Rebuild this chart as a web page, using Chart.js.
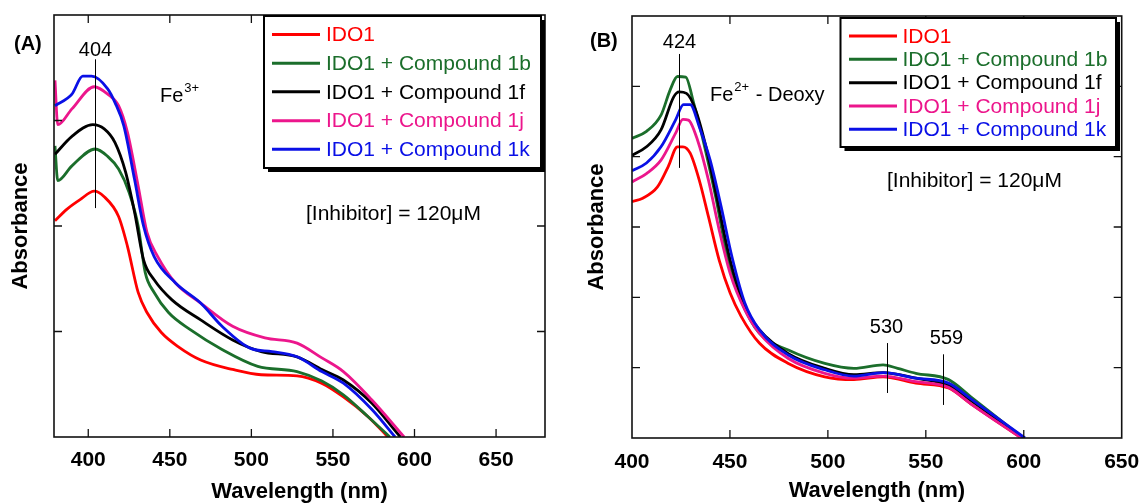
<!DOCTYPE html>
<html>
<head>
<meta charset="utf-8">
<script src="https://cdn.jsdelivr.net/npm/chart.js@4.4.1/dist/chart.umd.min.js"></script>
<style>
html,body{margin:0;padding:0;background:#fff;width:1141px;height:503px;overflow:hidden}
#wa{position:absolute;left:0;top:0;width:570px;height:503px}
#wb{position:absolute;left:570px;top:0;width:571px;height:503px}
canvas{display:block}
</style>
</head>
<body>
<div id="wa"><canvas id="ca" width="570" height="503"></canvas></div>
<div id="wb"><canvas id="cb" width="571" height="503"></canvas></div>
<script>
// ---------------- DATA ----------------
const seriesNames = ['IDO1', 'IDO1 + Compound 1b', 'IDO1 + Compound 1f', 'IDO1 + Compound 1j', 'IDO1 + Compound 1k'];

// x-axis tick labels (nm)
const xTicksA = [400, 450, 500, 550, 600, 650];
const xTicksB = [400, 450, 500, 550, 600, 650];

// Panel (A): Fe3+  — wavelength (nm) / absorbance (arb.)
const aIdo1Wl  = [379.6, 387, 395, 403.7, 409.6, 418.6, 424, 430.6, 436, 444.8, 455.7, 468.9, 488.5, 506, 528, 543, 556.4, 571.7, 583.7];
const aIdo1Abs = [0.205, 0.216, 0.225, 0.233, 0.228, 0.209, 0.181, 0.137, 0.118, 0.099, 0.085, 0.073, 0.064, 0.059, 0.058, 0.051, 0.038, 0.019, 0.000];
const a1bWl    = [379.6, 381.3, 390, 404.3, 411.9, 418.6, 425, 430.6, 434.9, 440.4, 449.2, 462.3, 482, 503.9, 528, 543.2, 556.4, 571.7, 584.9];
const a1bAbs   = [0.276, 0.243, 0.257, 0.273, 0.266, 0.254, 0.232, 0.200, 0.156, 0.137, 0.118, 0.102, 0.083, 0.067, 0.062, 0.053, 0.040, 0.019, 0.000];
const a1fWl    = [379.6, 390, 402.8, 409.8, 416.4, 422.9, 428.4, 433.9, 440.4, 451.3, 468.9, 488.5, 506, 528, 543.2, 556.4, 573.9, 589.2, 591.4];
const a1fAbs   = [0.268, 0.285, 0.296, 0.292, 0.279, 0.251, 0.213, 0.168, 0.149, 0.130, 0.111, 0.092, 0.081, 0.076, 0.064, 0.054, 0.032, 0.004, 0.000];
const a1jWl    = [379.6, 381.3, 390, 403.7, 411.9, 418.6, 424, 430.6, 436, 442.6, 453.5, 468.9, 488.5, 508.3, 528, 543.2, 556.4, 573.9, 593.6];
const a1jAbs   = [0.338, 0.296, 0.311, 0.332, 0.325, 0.314, 0.289, 0.238, 0.194, 0.171, 0.146, 0.127, 0.105, 0.094, 0.089, 0.075, 0.062, 0.035, 0.000];
const a1kWl    = [379.6, 390, 396.6, 402, 411.9, 416.4, 421.8, 428.4, 433.9, 440.4, 453.5, 468.9, 482, 499.5, 512.6, 528, 543.2, 556.4, 573.9, 588.1];
const a1kAbs   = [0.314, 0.325, 0.342, 0.342, 0.330, 0.317, 0.295, 0.244, 0.200, 0.171, 0.146, 0.127, 0.105, 0.084, 0.081, 0.076, 0.062, 0.051, 0.026, 0.000];

// Panel (B): Fe2+ - Deoxy
const bIdo1Wl  = [400, 405.5, 413, 418.5, 423.2, 426, 429.7, 434.3, 439, 444.5, 450.1, 455.7, 465, 479.8, 498.4, 513.3, 528.2, 544.9, 561.6, 572.8, 598.8];
const bIdo1Abs = [0.336, 0.341, 0.357, 0.386, 0.414, 0.414, 0.405, 0.367, 0.315, 0.253, 0.206, 0.173, 0.135, 0.106, 0.087, 0.083, 0.087, 0.078, 0.071, 0.049, 0.000];
const b1bWl    = [400, 407.4, 414.8, 419.5, 423.2, 427.4, 431.5, 437.1, 442.7, 448.3, 455.7, 465, 479.8, 498.4, 513.3, 528.2, 535.6, 544.9, 561.6, 572.8, 599.6];
const b1bAbs   = [0.426, 0.436, 0.459, 0.495, 0.514, 0.513, 0.476, 0.414, 0.343, 0.263, 0.196, 0.149, 0.125, 0.106, 0.099, 0.104, 0.099, 0.092, 0.083, 0.059, 0.000];
const b1fWl    = [400, 407.4, 414.8, 421.3, 424.1, 427.8, 432.5, 438.1, 443.6, 450.1, 457.6, 465, 479.8, 498.4, 513.3, 528.2, 544.9, 561.6, 572.8, 599.6];
const b1fAbs   = [0.402, 0.414, 0.438, 0.485, 0.492, 0.490, 0.466, 0.410, 0.338, 0.253, 0.187, 0.154, 0.120, 0.099, 0.090, 0.093, 0.085, 0.075, 0.054, 0.000];
const b1jWl    = [400, 407.4, 414.8, 422.2, 426, 428.8, 433.4, 439, 444.5, 450.1, 457.6, 465, 479.8, 498.4, 513.3, 528.2, 544.9, 561.6, 572.8, 598.8];
const b1jAbs   = [0.364, 0.376, 0.395, 0.433, 0.453, 0.452, 0.424, 0.367, 0.296, 0.234, 0.182, 0.149, 0.113, 0.092, 0.085, 0.088, 0.080, 0.072, 0.049, 0.000];
const b1kWl    = [400, 407.4, 414.8, 422.2, 426.3, 429.7, 434.3, 439.9, 445.5, 451, 457.6, 465, 479.8, 498.4, 513.3, 528.2, 544.9, 561.6, 572.8, 600.6];
const b1kAbs   = [0.380, 0.391, 0.414, 0.452, 0.474, 0.474, 0.443, 0.395, 0.329, 0.258, 0.192, 0.154, 0.118, 0.097, 0.088, 0.093, 0.085, 0.078, 0.056, 0.000];

// Peak marker lines: wavelength, lower and upper absorbance
const peaksA = [404];
const peaksALo = [0.217];
const peaksAHi = [0.358];
const peaksB = [424, 530, 559];
const peaksBLo = [0.384, 0.064, 0.047];
const peaksBHi = [0.546, 0.135, 0.119];

// ---------------- STYLE ----------------
const FONT = 'Arial, "Liberation Sans", Helvetica, sans-serif';
const seriesColors = ['#ff0000', '#1b6e2b', '#000000', '#ec168c', '#0a10e6'];
Chart.defaults.font.family = FONT;
Chart.defaults.color = '#000';

function toPts(wl, ab) { return wl.map((w, i) => ({ x: w, y: ab[i] })); }
function makeDatasets(pairs) {
  return pairs.map((p, i) => ({
    label: seriesNames[i],
    data: toPts(p[0], p[1]),
    borderColor: seriesColors[i],
    backgroundColor: seriesColors[i],
    borderWidth: 2.8,
    pointRadius: 0,
    fill: false,
    cubicInterpolationMode: 'monotone',
    order: 5 - i
  }));
}

function decorPlugin(L) {
  return {
    id: 'decor',
    afterDatasetsDraw(chart) {
      const ctx = chart.ctx, ca = chart.chartArea;
      const xs = chart.scales.x, ys = chart.scales.y;
      ctx.save();
      // peak lines
      ctx.strokeStyle = '#000'; ctx.lineWidth = 1;
      L.peaks.forEach((w, i) => {
        const px = Math.round(xs.getPixelForValue(w)) + 0.5;
        ctx.beginPath();
        ctx.moveTo(px, ys.getPixelForValue(L.peaksLo[i]));
        ctx.lineTo(px, ys.getPixelForValue(L.peaksHi[i]));
        ctx.stroke();
        ctx.font = '20px ' + FONT; ctx.fillStyle = '#000';
        ctx.textAlign = 'center'; ctx.textBaseline = 'alphabetic';
        ctx.fillText(String(w), px + (L.peakDx ? L.peakDx[i] : 0), L.peakLabelY[i]);
      });
      // frame
      ctx.strokeStyle = '#111'; ctx.lineWidth = 1.6;
      ctx.strokeRect(ca.left, ca.top, ca.right - ca.left, ca.bottom - ca.top);
      // inward ticks
      ctx.lineWidth = 1.3;
      xs.ticks.forEach(t => {
        const px = xs.getPixelForValue(t.value);
        if (px <= ca.left + 2 || px >= ca.right - 2) return;
        ctx.beginPath();
        ctx.moveTo(px, ca.bottom); ctx.lineTo(px, ca.bottom - 8);
        ctx.moveTo(px, ca.top); ctx.lineTo(px, ca.top + 8);
        ctx.stroke();
      });
      ys.ticks.forEach(t => {
        const py = ys.getPixelForValue(t.value);
        if (py <= ca.top + 2 || py >= ca.bottom - 2) return;
        ctx.beginPath();
        ctx.moveTo(ca.left, py); ctx.lineTo(ca.left + 8, py);
        ctx.moveTo(ca.right, py); ctx.lineTo(ca.right - 8, py);
        ctx.stroke();
      });
      // panel letter
      ctx.fillStyle = '#000';
      ctx.font = 'bold 20px ' + FONT; ctx.textAlign = 'left'; ctx.textBaseline = 'alphabetic';
      ctx.fillText(L.letter, L.letterX, L.letterY);
      // Fe label
      ctx.font = '20px ' + FONT;
      ctx.fillText('Fe', L.feX, L.feY);
      const feW = ctx.measureText('Fe').width;
      ctx.font = '13px ' + FONT;
      ctx.fillText(L.feSup, L.feX + feW + 1, L.feY - 10);
      const supW = ctx.measureText(L.feSup).width;
      if (L.feRest) {
        ctx.font = '20px ' + FONT;
        ctx.fillText(L.feRest, L.feX + feW + supW + 2, L.feY);
      }
      // inhibitor note
      ctx.font = '21px ' + FONT;
      ctx.fillText('[Inhibitor] = 120\u03BCM', L.inhX, L.inhY);
      // legend box
      const g = L.legend;
      ctx.fillStyle = '#fff';
      ctx.fillRect(g.x0, g.y0, g.x1 - g.x0, g.y1 - g.y0);
      ctx.fillStyle = '#000';
      ctx.fillRect(g.x1, g.y0 + 4, 4, g.y1 - g.y0);
      ctx.fillRect(g.x0 + 4, g.y1, g.x1 - g.x0, 4);
      ctx.strokeStyle = '#000'; ctx.lineWidth = 2;
      ctx.strokeRect(g.x0, g.y0, g.x1 - g.x0, g.y1 - g.y0);
      chart.data.datasets.forEach((ds, i) => {
        const y = g.rows[i];
        ctx.strokeStyle = ds.borderColor; ctx.lineWidth = 3;
        ctx.beginPath(); ctx.moveTo(g.lx0, y); ctx.lineTo(g.lx1, y); ctx.stroke();
        ctx.fillStyle = ds.borderColor;
        ctx.font = g.font + 'px ' + FONT; ctx.textBaseline = 'middle'; ctx.textAlign = 'left';
        ctx.fillText(ds.label, g.tx, y + 1);
      });
      ctx.restore();
    }
  };
}

function makeChart(canvasId, datasets, xmin, xmax, xticks, ymax, L) {
  return new Chart(document.getElementById(canvasId), {
    type: 'line',
    data: { datasets },
    options: {
      responsive: false,
      animation: false,
      events: [],
      layout: { padding: { left: 0, right: L.padRight, top: L.padTop, bottom: 0 } },
      plugins: { legend: { display: false }, tooltip: { enabled: false }, title: { display: false } },
      scales: {
        x: {
          type: 'linear', min: xmin, max: xmax,
          afterBuildTicks: s => { s.ticks = xticks.map(v => ({ value: v })); },
          afterFit: s => { s.height = L.xH; s.paddingLeft = 0; s.paddingRight = 0; },
          grid: { display: false, drawTicks: false },
          border: { display: false },
          ticks: { padding: L.tickPad, autoSkip: false, maxRotation: 0, font: { size: 21, weight: 'bold' }, color: '#000' },
          title: { display: true, text: 'Wavelength (nm)', font: { size: 22, weight: 'bold', lineHeight: 1 }, padding: { top: 0, bottom: L.xTitlePad }, color: '#000' }
        },
        y: {
          type: 'linear', min: 0, max: ymax,
          ticks: { display: false, stepSize: 0.1 },
          afterFit: s => { s.width = L.yW; s.paddingTop = 0; s.paddingBottom = 0; },
          grid: { display: false, drawTicks: false },
          border: { display: false },
          title: { display: true, text: 'Absorbance', font: { size: 22, weight: 'bold', lineHeight: 1 }, padding: { top: L.yTitlePad, bottom: 0 }, color: '#000' }
        }
      }
    },
    plugins: [decorPlugin(L)]
  });
}

const layoutA = {
  padRight: 25, padTop: 15, xH: 66, yW: 54, tickPad: 11, xTitlePad: 0, yTitlePad: 10,
  peaks: peaksA, peaksLo: peaksALo, peaksHi: peaksAHi, peakLabelY: [56],
  letter: '(A)', letterX: 14, letterY: 50,
  feX: 160, feY: 102, feSup: '3+', feRest: '',
  inhX: 306, inhY: 220,
  legend: { x0: 264, y0: 16, x1: 541, y1: 168, rows: [34.5, 63.3, 91.8, 120.7, 149.3], lx0: 272, lx1: 320, tx: 326, font: 21 }
};
const layoutB = {
  padRight: 19.3, padTop: 16, xH: 65, yW: 62, tickPad: 12, xTitlePad: 1.5, yTitlePad: 16,
  peaks: peaksB, peaksLo: peaksBLo, peaksHi: peaksBHi, peakLabelY: [48, 333, 344], peakDx: [0, -1, 3],
  letter: '(B)', letterX: 20, letterY: 47,
  feX: 140, feY: 101, feSup: '2+', feRest: ' - Deoxy',
  inhX: 317, inhY: 187,
  legend: { x0: 270.5, y0: 18, x1: 546, y1: 147, rows: [36, 59.3, 82.7, 106, 129.3], lx0: 279, lx1: 327, tx: 332.5, font: 21 }
};

makeChart('ca', makeDatasets([[aIdo1Wl, aIdo1Abs], [a1bWl, a1bAbs], [a1fWl, a1fAbs], [a1jWl, a1jAbs], [a1kWl, a1kAbs]]), 379, 680, xTicksA, 0.4, layoutA);
makeChart('cb', makeDatasets([[bIdo1Wl, bIdo1Abs], [b1bWl, b1bAbs], [b1fWl, b1fAbs], [b1jWl, b1jAbs], [b1kWl, b1kAbs]]), 400, 650, xTicksB, 0.6, layoutB);
</script>
</body>
</html>
